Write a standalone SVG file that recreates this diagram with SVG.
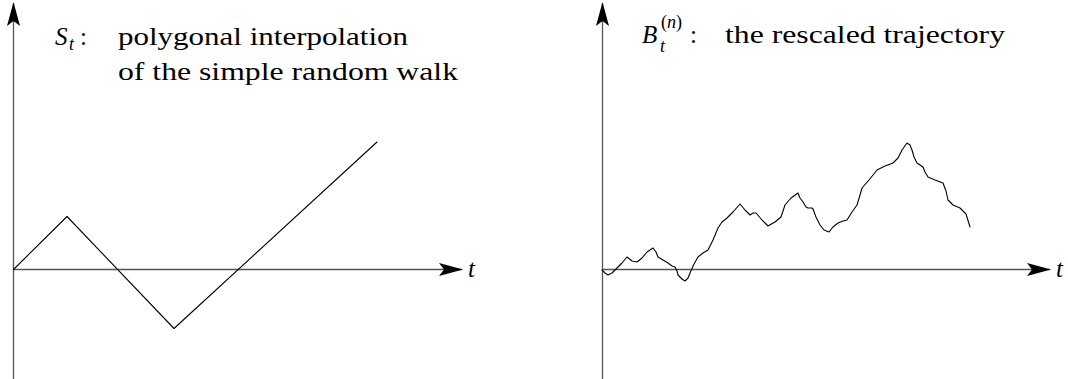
<svg xmlns="http://www.w3.org/2000/svg" width="1068" height="379" viewBox="0 0 1068 379">
<style>
.axis{stroke:#555;stroke-width:1.3;fill:none}
.curve{stroke:#000;stroke-width:1.1;fill:none;stroke-linejoin:round;stroke-linecap:round}
text{font-family:'Liberation Serif','Times New Roman',serif;font-size:25px;fill:#000}
.it{font-style:italic}
.sm{font-size:18px}
</style>
<defs>
<marker id="ah" viewBox="0 0 24 13" refX="23" refY="6.5" markerWidth="24" markerHeight="13" markerUnits="userSpaceOnUse" orient="auto">
<path d="M0,0 L24,6.5 L0,13 L5,6.5 Z" fill="#000"/>
</marker>
</defs>
<g id="connectors">
<line class="axis" x1="13.5" y1="379" x2="13.5" y2="3" marker-end="url(#ah)"/>
<line class="axis" x1="13.5" y1="269.5" x2="462" y2="269.5" marker-end="url(#ah)"/>
<line class="axis" x1="602.5" y1="379" x2="602.5" y2="3" marker-end="url(#ah)"/>
<line class="axis" x1="602.5" y1="269.5" x2="1050" y2="269.5" marker-end="url(#ah)"/>
</g>
<g id="walk">
<polyline class="curve" points="13.5,269.5 67,216.5 174,328.5 377,142"/>
</g>
<g id="brownian">
<polyline class="curve" points="602,270 605,273 608,275 612,273 617,268 622,263 627,257 632,261 637,262 642,258 647,252 653,248 656,252 658,257 663,260 668,263 672,266 675,267 677,271 678,275 682,279 685,281 688,278 690,273 694,264 698,257 703,253 708,250 713,240 718,228 722,222 727,218 733,212 740,204 745,210 750,215 753,213 756,213 762,220 768,226 775,222 781,217 783,211 785,205 791,198 798,193 800,198 803,202 806,207 808,208 812,208 813,209 816,217 820,225 824,230 829,232 833,227 838,223 843,221 847,220 852,212 857,205 860,195 862,188 869,180 877,170 885,166 893,163 898,158 902,150 907,143 910,145 912,150 914,157 917,163 920,165 923,167 925,172 928,177 935,180 943,183 946,191 948,200 953,205 960,208 966,214 970,227"/>
</g>
<g id="label-left">
<text x="55" y="45" class="it">S</text>
<text x="69" y="50" class="it sm">t</text>
<text x="80" y="45">:</text>
<text x="118" y="45" textLength="290" lengthAdjust="spacingAndGlyphs">polygonal interpolation</text>
<text x="118" y="80" textLength="340" lengthAdjust="spacingAndGlyphs">of the simple random walk</text>
</g>
<g id="label-right">
<text x="642" y="43" class="it">B</text>
<text x="660" y="52" class="it sm">t</text>
<text x="661" y="28" class="sm">(<tspan class="it">n</tspan>)</text>
<text x="690" y="43">:</text>
<text x="725" y="43" textLength="280" lengthAdjust="spacingAndGlyphs">the rescaled trajectory</text>
</g>
<g id="t-labels">
<text x="468" y="277" class="it">t</text>
<text x="1056" y="277" class="it">t</text>
</g>
</svg>
